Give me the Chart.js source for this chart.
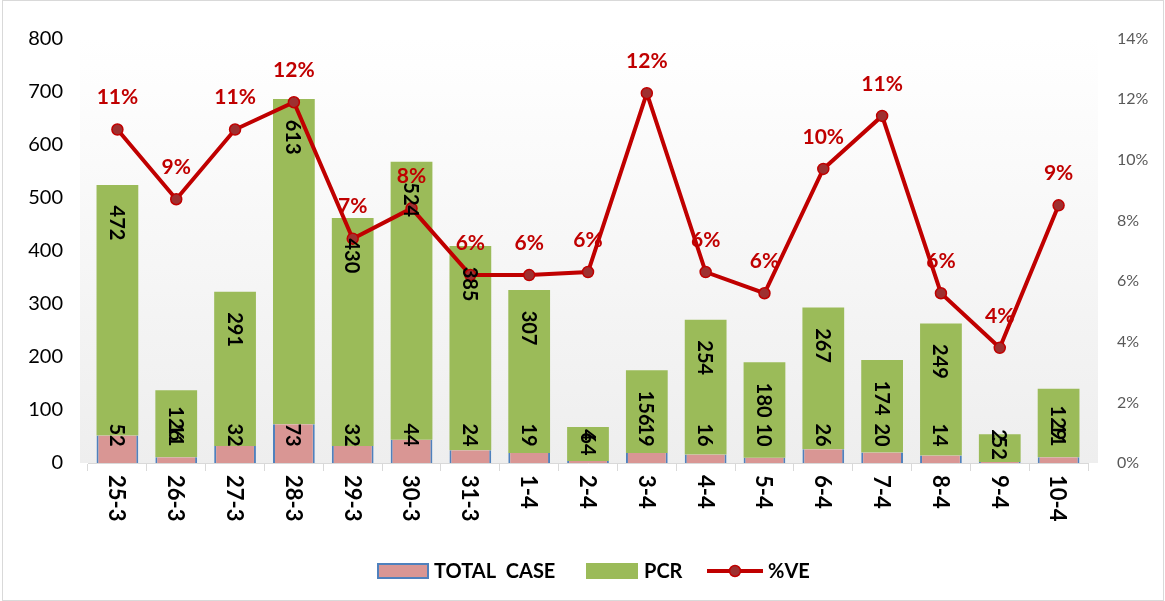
<!DOCTYPE html>
<html>
<head>
<meta charset="utf-8">
<script src="https://cdn.jsdelivr.net/npm/chart.js@4.4.1/dist/chart.umd.min.js"></script>
<style>
  html, body { margin: 0; padding: 0; background: #fff; }
  #wrap { width: 1165px; height: 601px; }
</style>
</head>
<body>
<div id="wrap"><canvas id="c" width="1165" height="601"></canvas></div>
<script>
// data
const days = ['25-3', '26-3', '27-3', '28-3', '29-3', '30-3', '31-3', '1-4', '2-4',
  '3-4', '4-4', '5-4', '6-4', '7-4', '8-4', '9-4', '10-4']
const totalCase = [52, 11, 32, 73, 32, 44, 24, 19, 4, 19, 16, 10, 26, 20, 14, 2, 11]
const pcr = [472, 126, 291, 613, 430, 524, 385, 307, 64, 156, 254, 180, 267, 174, 249, 52, 129]
const vePct = [11.0, 8.7, 11.0, 11.9, 7.4, 8.4, 6.2, 6.2, 6.3, 12.2, 6.3, 5.6, 9.7, 11.45, 5.6, 3.8, 8.5]
const leftTicks = [0, 100, 200, 300, 400, 500, 600, 700, 800]
const rightTicks = [0, 2, 4, 6, 8, 10, 12, 14]

const FONT = 'Lato, "Open Sans", sans-serif'
const RED = '#c00000'

// background, plot gradient, frame
const bgPlugin = {
  id: 'bg',
  beforeDraw(chart) {
    const { ctx, chartArea: a } = chart
    ctx.save()
    ctx.fillStyle = '#ffffff'
    ctx.fillRect(0, 0, chart.width, chart.height)
    const g = ctx.createLinearGradient(0, a.top, 0, a.bottom)
    g.addColorStop(0, '#ffffff')
    g.addColorStop(1, '#eeeeee')
    ctx.fillStyle = g
    ctx.fillRect(a.left - 8, a.top - 10, a.right - a.left + 18, a.bottom - a.top + 10)
    ctx.strokeStyle = '#d9d9d9'
    ctx.lineWidth = 1
    ctx.strokeRect(2.5, 0.5, chart.width - 4, chart.height - 1)
    ctx.restore()
  }
}

// labels: bar values, x categories, percent labels, legend
const labelPlugin = {
  id: 'labels',
  afterDraw(chart) {
    const { ctx } = chart
    const xs = chart.scales.x
    const totMeta = chart.getDatasetMeta(0)
    const pcrMeta = chart.getDatasetMeta(1)
    const lineMeta = chart.getDatasetMeta(2)
    ctx.save()

    // values inside bars, rotated clockwise
    ctx.fillStyle = '#000'
    ctx.font = 'bold 20px ' + FONT
    ctx.textAlign = 'center'
    ctx.textBaseline = 'middle'
    const rot = (txt, x, y) => {
      ctx.save()
      ctx.translate(x, y)
      ctx.rotate(Math.PI / 2)
      ctx.fillText(txt, 0, 1)
      ctx.restore()
    }
    pcrMeta.data.forEach((bar, i) => {
      const y = Math.min(bar.y + 38, (bar.y + bar.base) / 2)
      rot(String(pcr[i]), bar.x, y)
    })
    totMeta.data.forEach((bar, i) => {
      rot(String(totalCase[i]), bar.x, bar.base - 28)
    })

    // x category labels
    ctx.font = 'bold 22px ' + FONT
    ctx.textAlign = 'left'
    days.forEach((d, i) => {
      ctx.save()
      ctx.translate(xs.getPixelForValue(i), chart.chartArea.bottom + 12)
      ctx.rotate(Math.PI / 2)
      ctx.fillText(d, 0, 1)
      ctx.restore()
    })

    // percent labels
    ctx.fillStyle = RED
    ctx.font = 'bold 21px ' + FONT
    ctx.textAlign = 'center'
    lineMeta.data.forEach((pt, i) => {
      ctx.fillText(Math.round(vePct[i]) + '%', pt.x, pt.y - 32)
    })

    // legend
    const ds = chart.data.datasets
    const ly = 571
    ctx.font = 'bold 20px ' + FONT
    ctx.textAlign = 'left'
    ctx.fillStyle = ds[0].backgroundColor
    ctx.fillRect(378, 564, 50, 14)
    ctx.strokeStyle = '#4f81bd'
    ctx.lineWidth = 2
    ctx.strokeRect(378, 564, 50, 14)
    ctx.fillStyle = '#000'
    ctx.fillText(ds[0].label, 434, ly + 1)
    ctx.fillStyle = ds[1].backgroundColor
    ctx.fillRect(586, 563, 52, 16)
    ctx.fillStyle = '#000'
    ctx.fillText(ds[1].label, 644, ly + 1)
    ctx.strokeStyle = RED
    ctx.lineWidth = 4
    ctx.beginPath()
    ctx.moveTo(707, ly)
    ctx.lineTo(763, ly)
    ctx.stroke()
    ctx.beginPath()
    ctx.arc(735, ly, 5.5, 0, Math.PI * 2)
    ctx.fillStyle = '#9e3030'
    ctx.fill()
    ctx.lineWidth = 1.5
    ctx.stroke()
    ctx.fillStyle = '#000'
    ctx.fillText(ds[2].label, 768, ly + 1)
    ctx.restore()
  }
}

new Chart(document.getElementById('c'), {
  type: 'bar',
  data: {
    labels: days,
    datasets: [
      {
        label: 'TOTAL  CASE',
        data: totalCase,
        backgroundColor: '#d99694',
        borderColor: '#4f81bd',
        borderWidth: { top: 0, left: 2, right: 2, bottom: 0 },
        barPercentage: 0.71,
        categoryPercentage: 1,
        yAxisID: 'y',
        order: 2
      },
      {
        label: 'PCR',
        data: pcr,
        backgroundColor: '#9bbb59',
        barPercentage: 0.71,
        categoryPercentage: 1,
        yAxisID: 'y',
        order: 2
      },
      {
        type: 'line',
        label: '%VE',
        data: vePct,
        yAxisID: 'y1',
        borderColor: RED,
        borderWidth: 4,
        pointRadius: 5.5,
        pointBackgroundColor: '#9e3030',
        pointBorderColor: RED,
        pointBorderWidth: 1.5,
        tension: 0,
        order: 1
      }
    ]
  },
  options: {
    responsive: false,
    animation: false,
    devicePixelRatio: 1,
    layout: { padding: { top: 38, left: 0, right: 0, bottom: 0 } },
    plugins: { legend: { display: false }, tooltip: { enabled: false } },
    scales: {
      x: {
        stacked: true,
        offset: true,
        grid: { display: true, offset: true, drawOnChartArea: false, drawTicks: true, tickLength: 8, color: '#d9d9d9' },
        border: { display: true, color: '#d9d9d9' },
        ticks: { display: false },
        afterFit(s) { s.height = 138 }
      },
      y: {
        position: 'left',
        stacked: true,
        min: 0,
        max: 800,
        grid: { display: false, drawTicks: false },
        border: { display: false },
        afterBuildTicks(s) { s.ticks = leftTicks.map(v => ({ value: v })) },
        ticks: { padding: 25, color: '#000', font: { family: FONT, size: 20 } },
        afterFit(s) { s.width = 88 }
      },
      y1: {
        position: 'right',
        min: 0,
        max: 14,
        grid: { display: false, drawTicks: false },
        border: { display: false },
        afterBuildTicks(s) { s.ticks = rightTicks.map(v => ({ value: v })) },
        ticks: { padding: 29, color: '#595959', font: { family: FONT, size: 16 }, callback: v => v + '%' },
        afterFit(s) { s.width = 77 }
      }
    }
  },
  plugins: [bgPlugin, labelPlugin]
})
</script>
</body>
</html>
